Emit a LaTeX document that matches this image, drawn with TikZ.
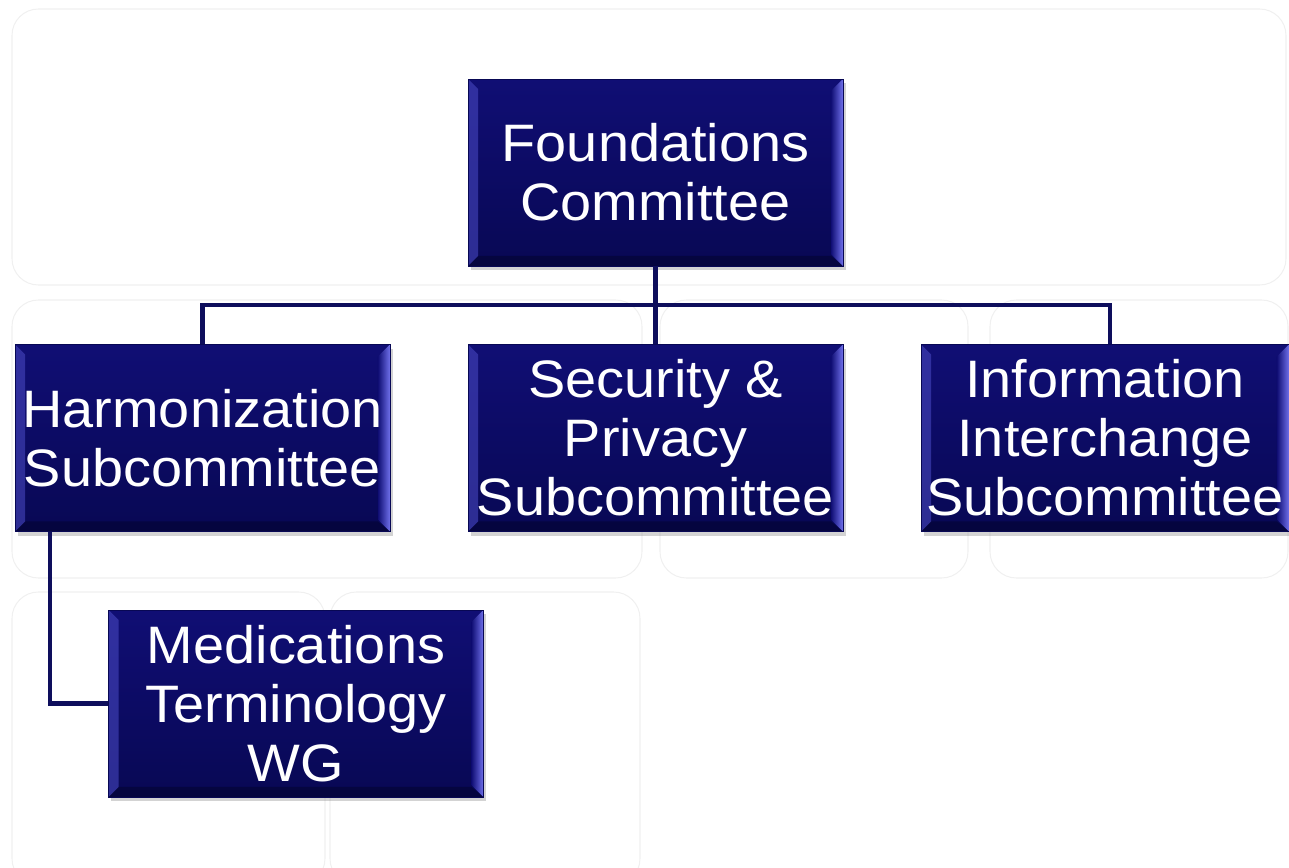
\documentclass[tikz,border=0pt]{standalone}
\usepackage{fontspec}
\setmainfont{Liberation Sans}[FakeStretch=1.06]
\usetikzlibrary{shadows}

\definecolor{navytop}{RGB}{16,14,116}
\definecolor{navybot}{RGB}{8,8,84}
\definecolor{navyline}{RGB}{14,14,92}
\definecolor{bevellow}{RGB}{70,70,190}
\definecolor{bevelhigh}{RGB}{112,112,235}

\tikzset{
	bgpanel/.style={draw=black!6, line width=0.6pt, rounded corners=15pt},
	unitbox/.style={draw=navybot, line width=0.5pt, inner sep=0pt,
		minimum width=7.5cm, minimum height=3.74cm,
		align=center, text=white, font=\fontsize{30}{33.5}\selectfont,
		top color=navytop, bottom color=navybot,
		drop shadow={shadow xshift=1.5pt, shadow yshift=-2.5pt, opacity=0.35},
		path picture={
			% left bevel
			\fill[bevellow, opacity=0.6] (path picture bounding box.north west) -- ++(10,10)
				-- ([shift={(10,-10)}]path picture bounding box.south west)
				-- (path picture bounding box.south west) -- cycle;
			% right bevel
			\shade[left color=navytop, right color=bevelhigh] (path picture bounding box.north east) -- ++(-12,12)
				-- ([shift={(-12,-12)}]path picture bounding box.south east)
				-- (path picture bounding box.south east) -- cycle;
			% bottom bevel
			\fill[black, opacity=0.25] (path picture bounding box.south west) -- ++(10,-10)
				-- ([shift={(-12,-10)}]path picture bounding box.south east)
				-- (path picture bounding box.south east) -- cycle;
		}},
	link/.style={draw=navyline, line width=2.3pt}
}

\begin{document}
\begin{tikzpicture}[x=0.02cm, y=-0.02cm]
		\useasboundingbox (0,0) rectangle (1289,868);

		% faint panels behind the chart
		\draw[bgpanel] (12,9) rectangle (1286,285);
		\draw[bgpanel] (12,300) rectangle (642,578);
		\draw[bgpanel] (660,300) rectangle (968,578);
		\draw[bgpanel] (990,300) rectangle (1288,578);
		\draw[bgpanel] (12,592) rectangle (325,885);
		\draw[bgpanel] (330,592) rectangle (640,885);

		% committee boxes
		\node[unitbox] (found) at (655.5,172.5) {Foundations\\Committee};
		\node[unitbox] (harm) at (202.5,438) {Harmonization\\Subcommittee};
		\node[unitbox] (secur) at (655.5,438) {Security \&\\Privacy\\Subcommittee};
		\node[unitbox, minimum width=7.36cm] (info) at (1105,438) {Information\\Interchange\\Subcommittee};
		\node[unitbox] (medic) at (296,703.5) {Medications\\Terminology\\WG};

		% connectors
		\draw[link] (found.south) -- ++(0,39) -| (harm.north);
		\draw[link] (found.south) -- (secur.north);
		\draw[link] (found.south) -- ++(0,39) -| ([xshift=0.1cm]info.north);
		\draw[link] ([xshift=0.7cm]harm.south west) |- (medic.west);

	\end{tikzpicture}
\end{document}
